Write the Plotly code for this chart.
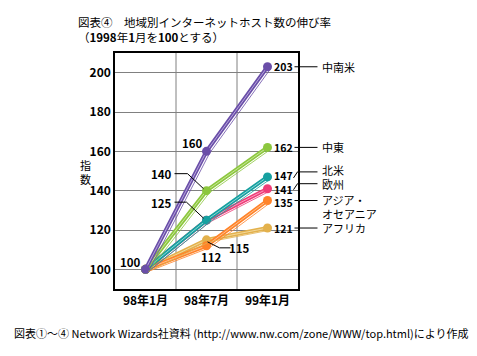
import plotly.graph_objects as go

# ---- data ----
categories = ["98年1月", "98年7月", "99年1月"]
series_names = ["アフリカ", "アジア・オセアニア", "欧州", "北米", "中東", "中南米"]
africa = [100, 115, 121]
asia = [100, 112, 135]
europe = [100, 125, 141]
namerica = [100, 125, 147]
mideast = [100, 140, 162]
latam = [100, 160, 203]
y_ticks = [100, 120, 140, 160, 180, 200]

values = [africa, asia, europe, namerica, mideast, latam]
colors = ["#e3b14c", "#ff8329", "#ef3c78", "#16a0a0", "#8cc73e", "#6a4ea8"]
light = ["#f3d89a", "#ffc08f", "#f8a0bf", "#8fd6d6", "#c9e79c", "#b7a6dc"]

W, H = 477, 356
L, R, T, B = 115, 179, 53, 67
PW, PH = W - L - R, H - T - B
YMIN, YMAX = 90, 210
CATW = PW / 3.0
YPX = PH / (YMAX - YMIN)

FONT = "Noto Sans CJK JP, sans-serif"


def px_x(p):
    return (p - L) / PW


def px_y(p):
    return (H - B - p) / PH


def pt(i, v, dx=0, dy=0):
    """paper x and data y of a point offset by dx, dy pixels (dy up)."""
    return (i + 0.5 + dx / CATW) / 3.0, v + dy / YPX


fig = go.Figure()
cidx = [0, 1, 2]

for vals, c, lc in zip(values, colors, light):
    # thin offset shadow line
    fig.add_trace(go.Scatter(x=cidx, y=vals, mode="lines", xaxis="x2", yaxis="y2",
                             line=dict(color=c, width=1), opacity=0.8,
                             hoverinfo="skip", showlegend=False))
for vals, c, lc in zip(values, colors, light):
    fig.add_trace(go.Scatter(x=cidx, y=vals, mode="lines",
                             line=dict(color=c, width=4), hoverinfo="skip", showlegend=False))
    fig.add_trace(go.Scatter(x=cidx, y=vals, mode="lines+markers",
                             line=dict(color=lc, width=1),
                             marker=dict(size=9, color=c, line=dict(color=c, width=0)),
                             hoverinfo="skip", showlegend=False))

annotations = []
shapes = []

def num(text, i, v, xs, ys, anchor="center", size=11.5):
    annotations.append(dict(x=i, y=v, xref="x", yref="y", text="<b>%s</b>" % text,
                            showarrow=False, xshift=xs, yshift=ys, xanchor=anchor,
                            font=dict(size=size, color="black", family=FONT)))

# left / middle value labels
num(latam[0], 0, latam[0], -15, 7)
num(latam[1], 1, latam[1], -14, 8)
num(mideast[1], 1, mideast[1], -45, 17)
num(namerica[1], 1, namerica[1], -45, 17)
num(asia[1], 1, asia[1], 5, -11)
num(africa[1], 1, africa[1], 33, -8)

def leader(points):
    path = "M " + " L ".join("%f,%f" % p for p in points)
    shapes.append(dict(type="path", path=path, xref="paper", yref="y",
                       line=dict(color="black", width=1)))

leader([pt(1, mideast[1], -3, 2), pt(1, mideast[1], -19, 17), pt(1, mideast[1], -32, 17)])
leader([pt(1, namerica[1], -3, 2), pt(1, namerica[1], -20, 18), pt(1, namerica[1], -32, 18)])
leader([pt(1, africa[1], 1, -2), pt(1, africa[1], 13, -8), pt(1, africa[1], 24, -8)])

# right value labels + names: (values, name, leader rise px, number nudge px, name nudge px)
right = [(latam, "中南米", 0, 0, 0), (mideast, "中東", 0, 0, 0),
         (namerica, "北米", 5, 1, 2), (europe, "欧州", 5, -1, 0),
         (asia, "アジア・<br>オセアニア", 0, -2, -6), (africa, "アフリカ", 0, 0, 0)]
for vals, name, up, nn, nm in right:
    num(vals[2], 2, vals[2], 4, nn, anchor="left", size=10.5)
    if up:
        leader([pt(2, vals[2], 26, -1), pt(2, vals[2], 30, up), pt(2, vals[2], 50, up)])
    else:
        leader([pt(2, vals[2], 27, 0), pt(2, vals[2], 50, 0)])
    xx, yy = pt(2, vals[2], 52, up)
    annotations.append(dict(x=xx, y=yy, xref="paper", yref="y", text=name,
                            showarrow=False, xanchor="left", align="left",
                            yshift=nm,
                            font=dict(size=11, color="black", family=FONT)))

# y axis title
annotations.append(dict(x=px_x(85), y=px_y(172), xref="paper", yref="paper",
                        xanchor="center", yanchor="middle",
                        text="指<br>数", showarrow=False,
                        font=dict(size=11, color="black", family=FONT)))
# title
annotations.append(dict(x=px_x(76), y=px_y(29), xref="paper", yref="paper",
                        xanchor="left", yanchor="middle", align="left", showarrow=False,
                        text="図表④　地域別インターネットホスト数の伸び率<br>（<b>1998</b>年<b>1</b>月を<b>100</b>とする）",
                        font=dict(size=11.5, color="black", family=FONT)))
# footer
annotations.append(dict(x=px_x(12), y=px_y(333), xref="paper", yref="paper",
                        xanchor="left", yanchor="middle", showarrow=False,
                        text="図表①～④ Network Wizards社資料 (http://www.nw.com/zone/WWW/top.html)により作成",
                        font=dict(size=11, color="black", family=FONT)))

fig.update_layout(
    width=W, height=H,
    margin=dict(l=L, r=R, t=T, b=B, pad=0),
    paper_bgcolor="white", plot_bgcolor="white",
    font=dict(family=FONT, size=12, color="black"),
    xaxis=dict(type="linear", range=[-0.5, 2.5], tickvals=cidx, ticktext=["<b>%s</b>" % c for c in categories],
               showgrid=False, zeroline=False, showline=True, mirror=True,
               linecolor="black", linewidth=1.5, ticks="", tickfont=dict(size=12)),
    yaxis=dict(range=[YMIN, YMAX], tickvals=y_ticks, ticktext=["<b>%d</b>" % t for t in y_ticks],
               showgrid=True, gridcolor="#808080", gridwidth=1, zeroline=False,
               showline=True, mirror=True, linecolor="black", linewidth=1.5,
               ticks="", tickfont=dict(size=12)),
    xaxis2=dict(overlaying="x", range=[-0.5 - 3 / CATW, 2.5 - 3 / CATW], visible=False),
    yaxis2=dict(overlaying="y", range=[YMIN + 2 / YPX, YMAX + 2 / YPX], visible=False),
    annotations=annotations,
    shapes=shapes + [dict(type="line", xref="x", yref="paper", x0=b, x1=b, y0=0, y1=1,
                          line=dict(color="#808080", width=1), layer="below")
                     for b in [0.5, 1.5]],
)

fig.write_html("out.html", config={"displayModeBar": False},
               post_script="document.body.style.margin='0';")
